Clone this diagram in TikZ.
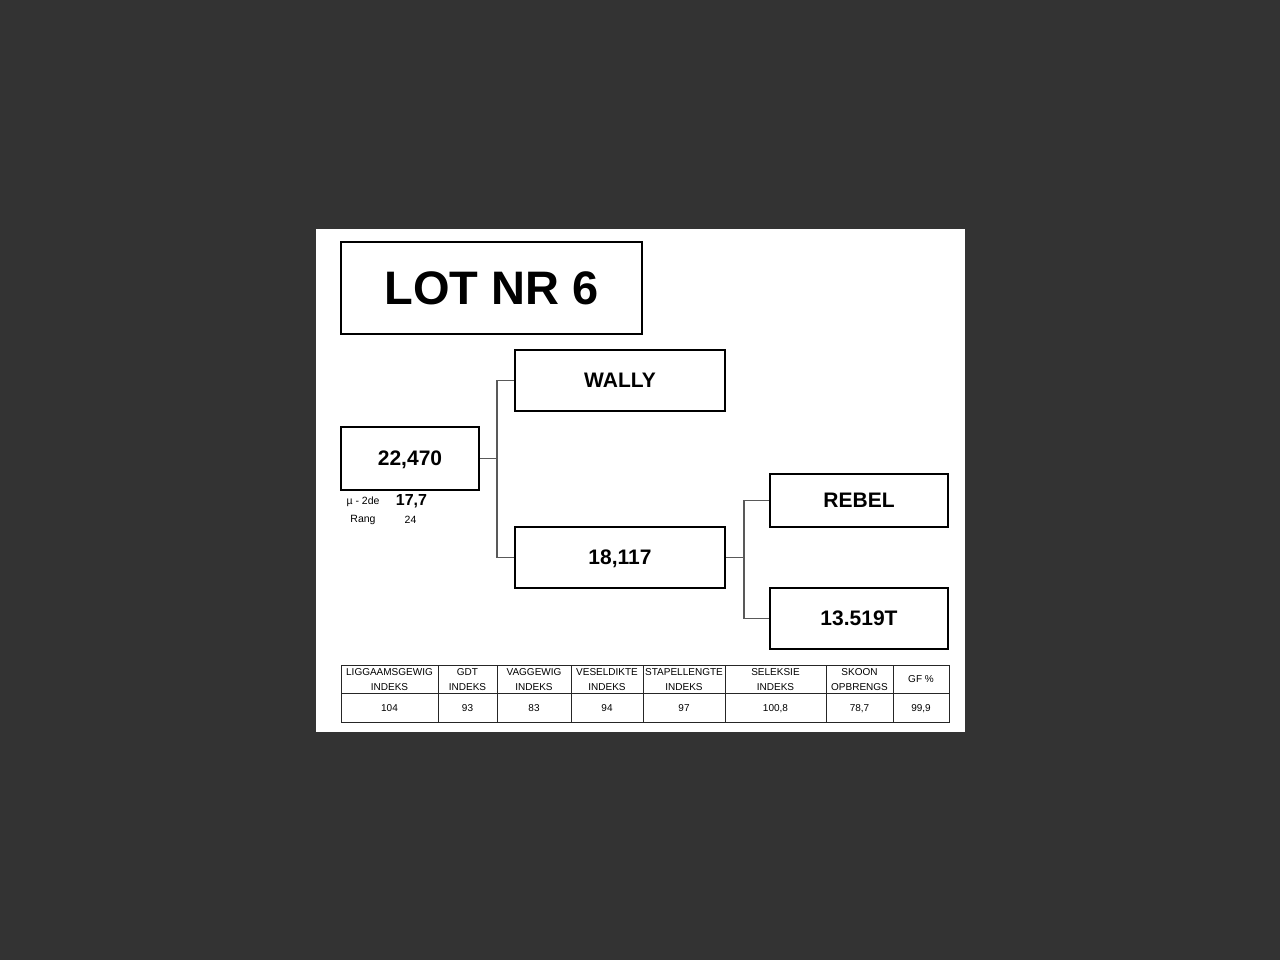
\documentclass[tikz,border=0pt]{standalone}
\usepackage{fontspec}
\setmainfont{Liberation Sans}
\begin{document}
\begin{tikzpicture}[x=1pt,y=-1pt,
  box/.style={draw=black,line width=2pt,fill=white,rectangle,inner sep=0pt,text depth=0pt,font=\bfseries\fontsize{21}{24}\selectfont},
  conn/.style={draw=black!65,line width=1.1pt},
  small/.style={inner sep=0pt,font=\fontsize{10.5}{12}\selectfont},
  cell/.style={inner sep=0pt,align=center,font=\fontsize{10}{15}\selectfont},
  grid/.style={draw=black!85,line width=1pt}]
\useasboundingbox (0,0) rectangle (1280,960);
\fill[black!80] (0,0) rectangle (1280,960);
\fill[white] (316,229) rectangle (965,732);
% boxes
\node[box,minimum width=301,minimum height=92,font=\bfseries\fontsize{47}{52}\selectfont] (title) at (491.5,288) {LOT NR 6};
\node[box,minimum width=210,minimum height=61] (wally) at (620,380.5) {WALLY};
\node[box,minimum width=138,minimum height=63] (sire) at (410,458.5) {22,470};
\node[box,minimum width=210,minimum height=61] (dam) at (620,557.5) {18,117};
\node[box,minimum width=178,minimum height=53] (rebel) at (859,500.5) {REBEL};
\node[box,minimum width=178,minimum height=61] (gdam) at (859,618.5) {13.519T};
% connectors
\coordinate (j1) at (497,458.5);
\coordinate (j2) at (744,557.5);
\draw[conn] (sire.east) -- (j1);
\draw[conn] (j1) |- (wally.west);
\draw[conn] (j1) |- (dam.west);
\draw[conn] (dam.east) -- (j2);
\draw[conn] (j2) |- (rebel.west);
\draw[conn] (j2) |- (gdam.west);
% stats
\node[small] (mu) at (363,501.5) {µ - 2de};
\node[inner sep=0pt,font=\bfseries\fontsize{16}{18}\selectfont] (muv) at (411.5,501.5) {17,7};
\node[small] (rang) at (363,519.5) {Rang};
\node[small] (rangv) at (410.5,519.5) {24};
% table
\draw[grid] (341,665) rectangle (949,722);
\draw[grid] (341,693) -- (949,693);
\foreach \x in {438,497,571,643,725,826,893} \draw[grid] (\x,665) -- (\x,722);
\node[cell] (h1) at (389.5,680) {LIGGAAMSGEWIG\\INDEKS};
\node[cell] (h2) at (467.5,680) {GDT\\INDEKS};
\node[cell] (h3) at (534,680) {VAGGEWIG\\INDEKS};
\node[cell] (h4) at (607,680) {VESELDIKTE\\INDEKS};
\node[cell] (h5) at (684,680) {STAPELLENGTE\\INDEKS};
\node[cell] (h6) at (775.5,680) {SELEKSIE\\INDEKS};
\node[cell] (h7) at (859.5,680) {SKOON\\OPBRENGS};
\node[cell] (h8) at (921,679.5) {GF \%};
\node[cell] (v1) at (389.5,708.5) {104};
\node[cell] (v2) at (467.5,708.5) {93};
\node[cell] (v3) at (534,708.5) {83};
\node[cell] (v4) at (607,708.5) {94};
\node[cell] (v5) at (684,708.5) {97};
\node[cell] (v6) at (775.5,708.5) {100,8};
\node[cell] (v7) at (859.5,708.5) {78,7};
\node[cell] (v8) at (921,708.5) {99,9};
\end{tikzpicture}
\end{document}
